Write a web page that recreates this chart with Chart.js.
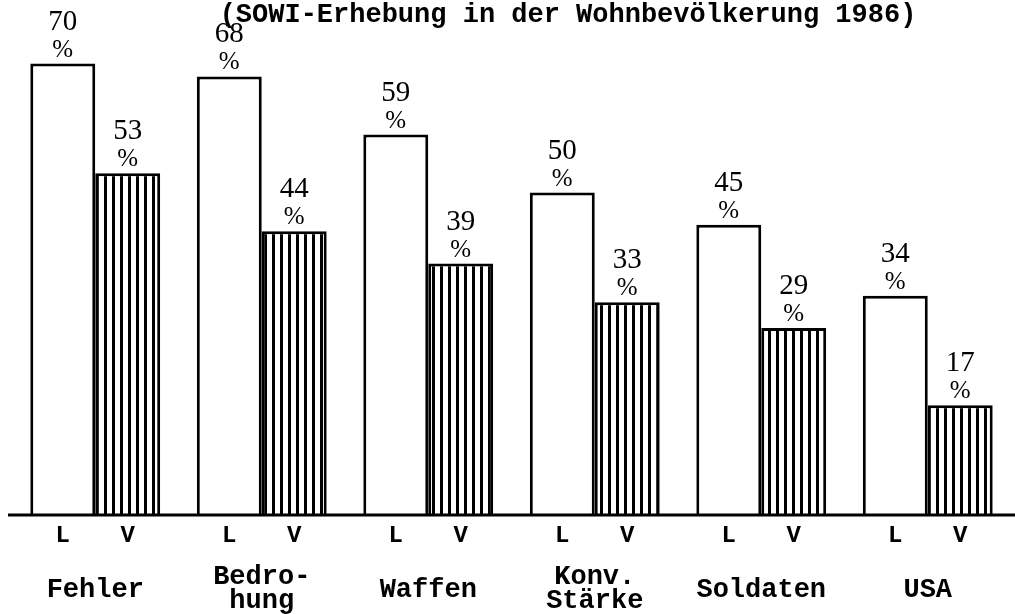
<!DOCTYPE html>
<html>
<head>
<meta charset="utf-8">
<script src="https://cdn.jsdelivr.net/npm/chart.js@4"></script>
<style>
  html, body { margin: 0; padding: 0; background: #fff; }
  canvas { display: block; }
</style>
</head>
<body>
<canvas id="chart" width="1015" height="614"></canvas>
<script>
const TITLE = '(SOWI-Erhebung in der Wohnbevölkerung 1986)';
const categories = [['Fehler'], ['Bedro-', 'hung'], ['Waffen'], ['Konv.', 'Stärke'], ['Soldaten'], ['USA']];
const seriesNames = ['L', 'V'];
const valuesL = [70, 68, 59, 50, 45, 34];
const valuesV = [53, 44, 39, 33, 29, 17];

const MONO = '"Liberation Mono", "Courier New", monospace';
const SERIF = '"Liberation Serif", "DejaVu Serif", serif';

const canvas = document.getElementById('chart');
const ctx = canvas.getContext('2d');

// vertical hatching for the V bars
function makeHatch() {
  const c = document.createElement('canvas');
  c.width = 8;
  c.height = 4;
  const p = c.getContext('2d');
  p.fillStyle = '#fff';
  p.fillRect(0, 0, 8, 4);
  p.fillStyle = '#000';
  p.fillRect(0, 0, 3, 4);
  return ctx.createPattern(c, 'repeat');
}

const labelsPlugin = {
  id: 'labels',
  afterDraw(chart) {
    const { ctx: c, scales } = chart;
    const x = scales.x;
    const y = scales.y;
    c.save();
    c.fillStyle = '#000';
    c.strokeStyle = '#000';

    // baseline
    const y0 = y.getPixelForValue(0);
    c.lineWidth = 3;
    c.beginPath();
    c.moveTo(8, y0);
    c.lineTo(chart.width, y0);
    c.stroke();

    // title
    c.textAlign = 'center';
    c.textBaseline = 'alphabetic';
    c.font = `bold 27px ${MONO}`;
    c.fillText(TITLE, 568, 22);

    chart.data.datasets.forEach((ds, di) => {
      const meta = chart.getDatasetMeta(di);
      meta.data.forEach((el, i) => {
        c.font = `29px ${SERIF}`;
        c.fillText(String(ds.data[i]), el.x, el.y - 34);
        c.font = `25px ${SERIF}`;
        c.fillText('%', el.x, el.y - 7);
        c.font = `bold 24px ${MONO}`;
        c.fillText(seriesNames[di], el.x, y0 + 27);
      });
    });

    c.font = `bold 27px ${MONO}`;
    categories.forEach((lines, i) => {
      const cx = x.getPixelForValue(i);
      if (lines.length === 1) {
        c.fillText(lines[0], cx, 597);
      } else {
        c.fillText(lines[0], cx, 584);
        c.fillText(lines[1], cx, 608);
      }
    });
    c.restore();
  },
};

new Chart(ctx, {
  type: 'bar',
  data: {
    labels: categories.map((l) => l.join(' ')),
    datasets: [{
      label: seriesNames[0],
      data: valuesL,
      backgroundColor: '#fff',
      borderColor: '#000',
      borderWidth: 3,
    }, {
      label: seriesNames[1],
      data: valuesV,
      backgroundColor: makeHatch(),
      borderColor: '#000',
      borderWidth: 3,
    }],
  },
  options: {
    responsive: false,
    animation: false,
    layout: { padding: { left: 12, right: 4, top: 12, bottom: 99 } },
    datasets: {
      bar: { categoryPercentage: 0.78, barPercentage: 1.0 },
    },
    scales: {
      x: { display: false },
      y: { display: false, min: 0, max: 78 },
    },
    plugins: {
      legend: { display: false },
      tooltip: { enabled: false },
    },
  },
  plugins: [labelsPlugin],
});
</script>
</body>
</html>
